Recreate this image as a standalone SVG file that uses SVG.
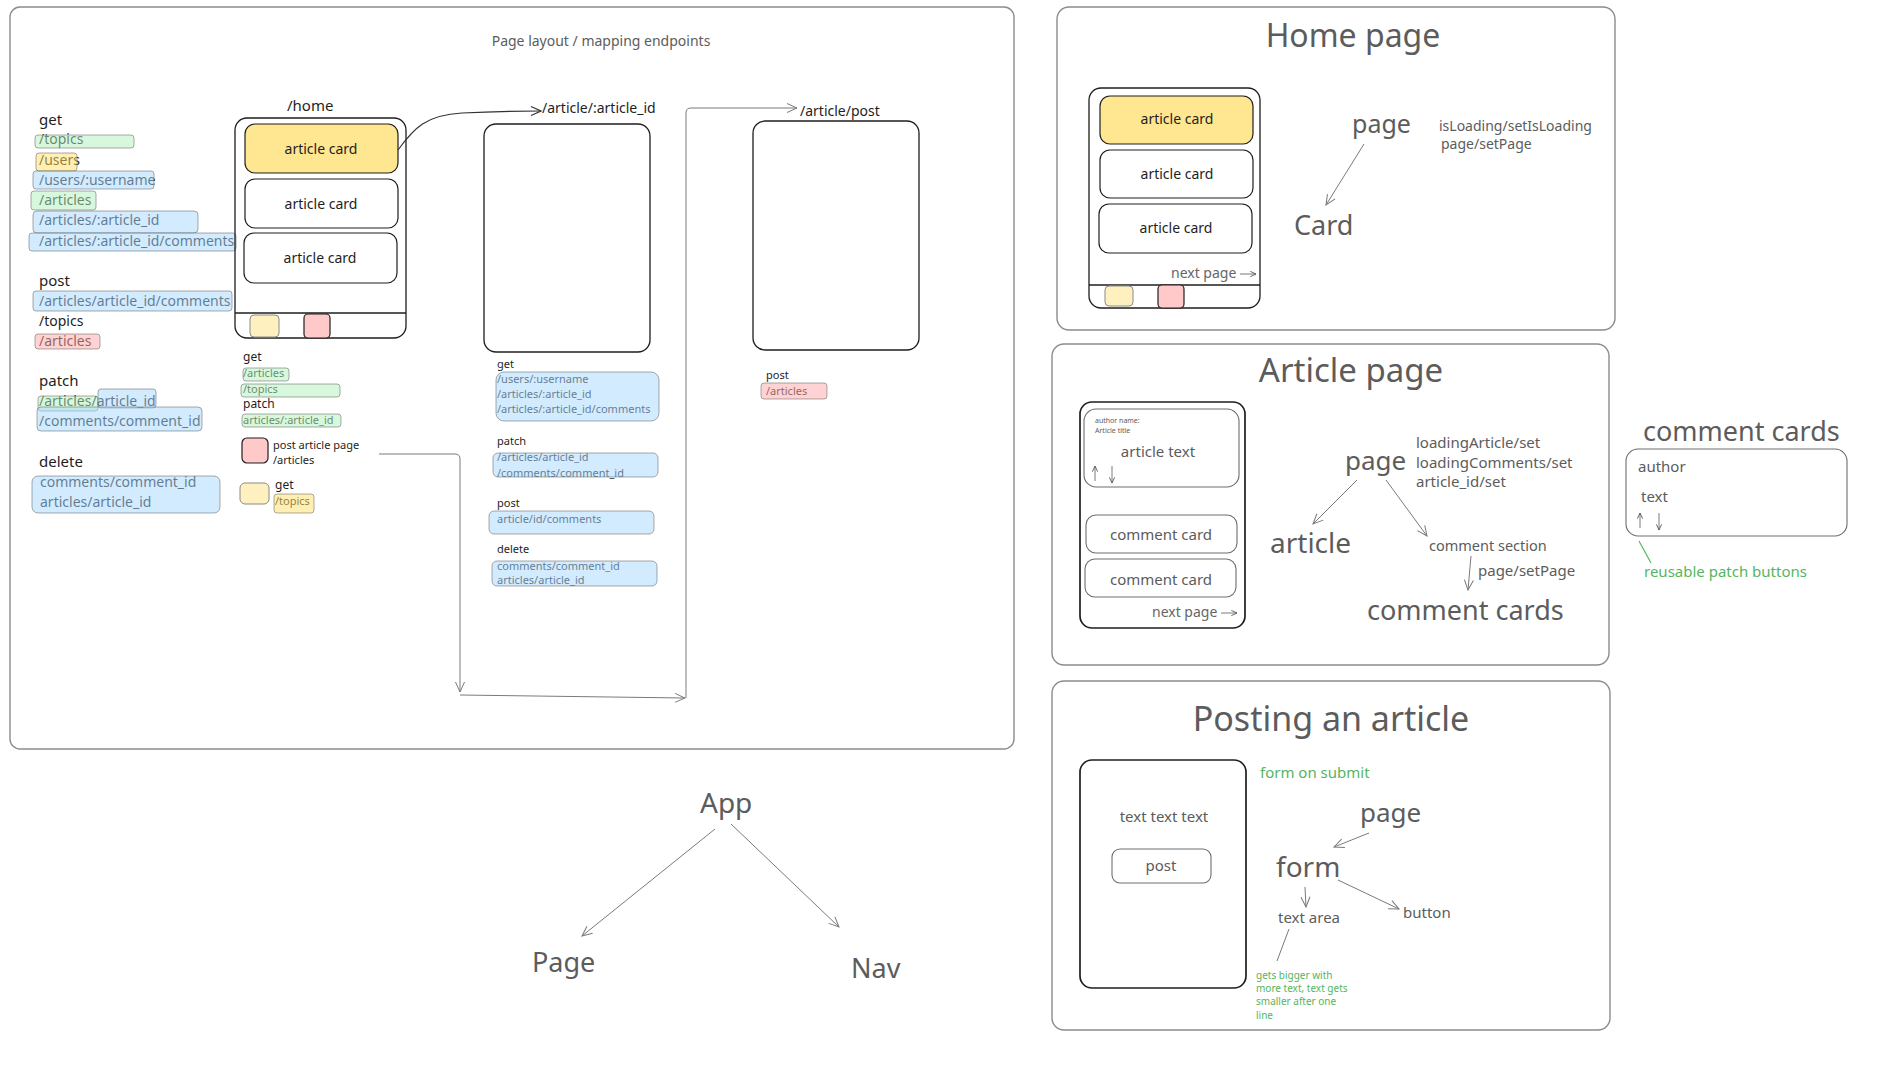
<svg xmlns="http://www.w3.org/2000/svg" width="1904" height="1090" viewBox="0 0 1904 1090">
  <style>
    text { font-family: "Noto Sans", "Liberation Sans", sans-serif; }
    .frame { fill: #fff; stroke: #8c8c8c; stroke-width: 1.4; }
    .phone { fill: none; stroke: #1e1e1e; stroke-width: 1.3; }
    .phone2 { fill: none; stroke: #1e1e1e; stroke-width: 1.7; }
    .card { fill: #fff; stroke: #1e1e1e; stroke-width: 1.2; }
    .card-soft { fill: #fff; stroke: #6e6e6e; stroke-width: 1.1; }
    .card-y { fill: #ffe690; stroke: #1e1e1e; stroke-width: 1.2; }
    .sq-y { fill: #fff1bf; stroke: #8a8a8a; stroke-width: 1; }
    .sq-p { fill: #ffc9c9; stroke: #1e1e1e; stroke-width: 1.2; }
    .hl { stroke: #5a5a5a; stroke-opacity: 0.5; stroke-width: 1; fill-opacity: 0.5; }
    .g { fill: #b2f2bb; }
    .b { fill: #a5d8ff; }
    .y { fill: #ffe066; }
    .p { fill: #ffa8a8; }
    .k { fill: #1e1e1e; }
    .s14 { font-size: 14px; }
    .s11 { font-size: 11px; }
    .s12 { font-size: 12px; }
    .gray { fill: #5c5c5c; }
    .mid { text-anchor: middle; }
    .note { fill: #55b560; }
    .conn { fill: none; stroke: #7a7a7a; stroke-width: 1; }
    .conn-d { fill: none; stroke: #333; stroke-width: 1.2; }
  </style>
  <defs>
    <marker id="ah" viewBox="0 0 12 12" refX="11" refY="6" markerWidth="12" markerHeight="12" markerUnits="userSpaceOnUse" orient="auto">
      <path d="M1,1.5 L11,6 L1,10.5" fill="none" stroke="#7a7a7a" stroke-width="1"/>
    </marker>
    <marker id="ah-d" viewBox="0 0 12 12" refX="11" refY="6" markerWidth="12" markerHeight="12" markerUnits="userSpaceOnUse" orient="auto">
      <path d="M1,1.5 L11,6 L1,10.5" fill="none" stroke="#333" stroke-width="1.2"/>
    </marker>
    <marker id="ah-s" viewBox="0 0 8 8" refX="7.5" refY="4" markerWidth="7" markerHeight="7" markerUnits="userSpaceOnUse" orient="auto">
      <path d="M1,1 L7.5,4 L1,7" fill="none" stroke="#555" stroke-width="1"/>
    </marker>
  </defs>

  <!-- ===== Page layout / mapping endpoints ===== -->
  <g id="layout-frame">
    <rect class="frame" x="10" y="7" width="1004" height="742" rx="10"/>
    <text class="s14 gray mid" x="601" y="46">Page layout / mapping endpoints</text>
  </g>

  <!-- endpoint list -->
  <g id="endpoint-list">
    <text class="k" style="font-size:15px" x="39" y="125">get</text>
    <text class="k s14" x="39" y="144">/topics</text>
    <text class="k s14" x="39" y="165">/users</text>
    <text class="k s14" x="39" y="185">/users/:username</text>
    <text class="k s14" x="39" y="205">/articles</text>
    <text class="k s14" x="39" y="225">/articles/:article_id</text>
    <text class="k s14" x="39" y="246">/articles/:article_id/comments</text>
    <rect class="hl g" x="35" y="135" width="99" height="13" rx="3"/>
    <rect class="hl y" x="36" y="153" width="41" height="18" rx="3"/>
    <rect class="hl b" x="33" y="171" width="121" height="18" rx="3"/>
    <rect class="hl g" x="31" y="191" width="65" height="19" rx="3"/>
    <rect class="hl b" x="33" y="211" width="165" height="22" rx="4"/>
    <rect class="hl b" x="29" y="233" width="207" height="18" rx="3"/>

    <text class="k" style="font-size:15px" x="39" y="286">post</text>
    <text class="k s14" x="39" y="306">/articles/article_id/comments</text>
    <rect class="hl b" x="33" y="291" width="199" height="20" rx="3"/>
    <text class="k s14" x="39" y="326">/topics</text>
    <text class="k s14" x="39" y="346">/articles</text>
    <rect class="hl p" x="35" y="334" width="65" height="15" rx="3"/>

    <text class="k" style="font-size:15px" x="39" y="386">patch</text>
    <text class="k s14" x="39" y="406">/articles/article_id</text>
    <rect class="hl g" x="38" y="396" width="60" height="15" rx="3"/>
    <rect class="hl b" x="98" y="389" width="58" height="19" rx="3"/>
    <text class="k s14" x="39" y="426">/comments/comment_id</text>
    <rect class="hl b" x="37" y="407" width="165" height="24" rx="4"/>

    <text class="k" style="font-size:15px" x="39" y="467">delete</text>
    <text class="k s14" x="40" y="487">comments/comment_id</text>
    <text class="k s14" x="40" y="507">articles/article_id</text>
    <rect class="hl b" x="32" y="476" width="188" height="37" rx="6"/>
  </g>

  <!-- /home wireframe -->
  <g id="home-wireframe">
    <text class="k" style="font-size:15px" x="287" y="111">/home</text>
    <rect class="phone" x="235" y="118" width="171" height="220" rx="12"/>
    <line class="phone" x1="235" y1="313" x2="406" y2="313"/>
    <rect class="card-y" x="245" y="124" width="153" height="49" rx="10"/>
    <rect class="card" x="245" y="179" width="153" height="49" rx="10"/>
    <rect class="card" x="244" y="233" width="153" height="50" rx="10"/>
    <text class="k s14 mid" x="321" y="154">article card</text>
    <text class="k s14 mid" x="321" y="209">article card</text>
    <text class="k s14 mid" x="320" y="263">article card</text>
    <rect class="sq-y" x="250" y="315" width="29" height="22" rx="4"/>
    <rect class="sq-p" x="304" y="314" width="26" height="24" rx="4"/>
  </g>

  <g id="home-endpoints">
    <text class="k s12" x="243" y="361">get</text>
    <text class="k s11" x="243" y="377">/articles</text>
    <rect class="hl g" x="243" y="368" width="46" height="13" rx="3"/>
    <text class="k s11" x="243" y="393">/topics</text>
    <rect class="hl g" x="241" y="384" width="99" height="13" rx="3"/>
    <text class="k s12" x="243" y="408">patch</text>
    <text class="k s11" x="243" y="424">articles/:article_id</text>
    <rect class="hl g" x="242" y="414" width="99" height="13" rx="3"/>
    <rect class="sq-p" x="242" y="438" width="26" height="25" rx="5"/>
    <text class="k s11" x="273" y="449">post article page</text>
    <text class="k s11" x="273" y="464">/articles</text>
    <rect class="sq-y" x="240" y="483" width="29" height="21" rx="5"/>
    <text class="k s12" x="275" y="489">get</text>
    <text class="k s11" x="275" y="505">/topics</text>
    <rect class="hl y" x="274" y="494" width="40" height="19" rx="3"/>
  </g>

  <!-- /article/:article_id wireframe -->
  <g id="article-wireframe">
    <text class="k s14" x="542" y="113">/article/:article_id</text>
    <rect class="phone" x="484" y="124" width="166" height="228" rx="12"/>
    <text class="k s11" x="497" y="368">get</text>
    <text class="k s11" x="497" y="383">/users/:username</text>
    <text class="k s11" x="497" y="398">/articles/:article_id</text>
    <text class="k s11" x="497" y="413">/articles/:article_id/comments</text>
    <rect class="hl b" x="496" y="372" width="163" height="49" rx="8"/>
    <text class="k s11" x="497" y="445">patch</text>
    <text class="k s11" x="497" y="461">/articles/article_id</text>
    <text class="k s11" x="497" y="477">/comments/comment_id</text>
    <rect class="hl b" x="493" y="453" width="165" height="24" rx="5"/>
    <text class="k s11" x="497" y="507">post</text>
    <text class="k s11" x="497" y="523">article/id/comments</text>
    <rect class="hl b" x="489" y="511" width="165" height="23" rx="5"/>
    <text class="k s11" x="497" y="553">delete</text>
    <text class="k s11" x="497" y="570">comments/comment_id</text>
    <text class="k s11" x="497" y="584">articles/article_id</text>
    <rect class="hl b" x="492" y="561" width="165" height="25" rx="5"/>
  </g>

  <!-- /article/post wireframe -->
  <g id="post-wireframe">
    <text class="k s14" x="800" y="116">/article/post</text>
    <rect class="phone" x="753" y="121" width="166" height="229" rx="12"/>
    <text class="k s11" x="766" y="379">post</text>
    <text class="k s11" x="766" y="395">/articles</text>
    <rect class="hl p" x="761" y="383" width="66" height="16" rx="3"/>
  </g>

  <!-- ===== Home page ===== -->
  <g id="home-page">
    <rect class="frame" x="1057" y="7" width="558" height="323" rx="12"/>
    <text class="gray mid" style="font-size:32px" x="1353" y="47">Home page</text>
    <rect class="phone" x="1089" y="88" width="171" height="220" rx="12"/>
    <line class="phone" x1="1089" y1="285" x2="1260" y2="285"/>
    <rect class="card-y" x="1100" y="96" width="153" height="48" rx="10"/>
    <rect class="card" x="1100" y="150" width="153" height="48" rx="10"/>
    <rect class="card" x="1099" y="204" width="153" height="49" rx="10"/>
    <text class="k s14 mid" x="1177" y="124">article card</text>
    <text class="k s14 mid" x="1177" y="179">article card</text>
    <text class="k s14 mid" x="1176" y="233">article card</text>
    <text class="s14" style="fill:#666" x="1171" y="278">next page</text>
    <line class="conn" x1="1240" y1="274" x2="1256" y2="274" marker-end="url(#ah-s)"/>
    <rect class="sq-y" x="1105" y="286" width="28" height="20" rx="4"/>
    <rect class="sq-p" x="1158" y="285" width="26" height="23" rx="4"/>
    <text class="gray" style="font-size:25px" x="1352" y="133">page</text>
    <text class="gray" style="font-size:14px" x="1439" y="131">isLoading/setIsLoading</text>
    <text class="gray" style="font-size:14px" x="1441" y="149">page/setPage</text>
    <line class="conn" x1="1364" y1="144" x2="1326" y2="205" marker-end="url(#ah)"/>
    <text class="gray" style="font-size:27px" x="1294" y="235">Card</text>
  </g>

  <!-- ===== Article page ===== -->
  <g id="article-page">
    <rect class="frame" x="1052" y="344" width="557" height="321" rx="12"/>
    <text class="gray mid" style="font-size:33px" x="1351" y="382">Article page</text>
    <rect class="phone2" x="1080" y="402" width="165" height="226" rx="12"/>
    <rect class="card-soft" x="1084" y="409" width="155" height="78" rx="12"/>
    <text class="gray" style="font-size:7px" x="1095" y="423">author name:</text>
    <text class="gray" style="font-size:7px" x="1095" y="433">Article title</text>
    <text class="gray mid" style="font-size:15px" x="1158" y="457">article text</text>
    <line class="conn" x1="1095" y1="481" x2="1095" y2="466" marker-end="url(#ah-s)"/>
    <line class="conn" x1="1112" y1="466" x2="1112" y2="483" marker-end="url(#ah-s)"/>
    <rect class="card-soft" x="1086" y="515" width="151" height="38" rx="10"/>
    <text class="gray mid" style="font-size:15px" x="1161" y="540">comment card</text>
    <rect class="card-soft" x="1085" y="559" width="151" height="38" rx="10"/>
    <text class="gray mid" style="font-size:15px" x="1161" y="585">comment card</text>
    <text class="s14" style="fill:#666" x="1152" y="617">next page</text>
    <line class="conn" x1="1221" y1="613" x2="1237" y2="613" marker-end="url(#ah-s)"/>
    <text class="gray" style="font-size:26px" x="1345" y="470">page</text>
    <text class="gray" style="font-size:15px" x="1416" y="448">loadingArticle/set</text>
    <text class="gray" style="font-size:15px" x="1416" y="468">loadingComments/set</text>
    <text class="gray" style="font-size:15px" x="1416" y="487">article_id/set</text>
    <line class="conn" x1="1357" y1="480" x2="1313" y2="524" marker-end="url(#ah)"/>
    <line class="conn" x1="1386" y1="480" x2="1427" y2="536" marker-end="url(#ah)"/>
    <text class="gray" style="font-size:28px" x="1270" y="553">article</text>
    <text class="gray" style="font-size:14.5px" x="1429" y="551">comment section</text>
    <line class="conn" x1="1471" y1="556" x2="1468" y2="590" marker-end="url(#ah)"/>
    <text class="gray" style="font-size:15px" x="1478" y="576">page/setPage</text>
    <text class="gray" style="font-size:27px" x="1367" y="620">comment cards</text>
  </g>

  <!-- ===== comment cards ===== -->
  <g id="comment-cards">
    <text class="gray" style="font-size:27px" x="1643" y="441">comment cards</text>
    <rect class="card-soft" x="1626" y="449" width="221" height="87" rx="12"/>
    <text class="gray" style="font-size:15px" x="1638" y="472">author</text>
    <text class="gray" style="font-size:15px" x="1641" y="502">text</text>
    <line class="conn" x1="1640" y1="528" x2="1640" y2="513" marker-end="url(#ah-s)"/>
    <line class="conn" x1="1659" y1="513" x2="1659" y2="530" marker-end="url(#ah-s)"/>
    <line x1="1639" y1="541" x2="1651" y2="563" stroke="#55b560" stroke-width="1.2"/>
    <text class="note" style="font-size:15px" x="1644" y="577">reusable patch buttons</text>
  </g>

  <!-- ===== Posting an article ===== -->
  <g id="posting-article">
    <rect class="frame" x="1052" y="681" width="558" height="349" rx="12"/>
    <text class="gray mid" style="font-size:34px" x="1331" y="731">Posting an article</text>
    <rect class="phone2" x="1080" y="760" width="166" height="228" rx="12"/>
    <text class="gray mid" style="font-size:15px" x="1164" y="822">text text text</text>
    <rect class="card-soft" x="1112" y="849" width="99" height="34" rx="8"/>
    <text class="gray mid" style="font-size:15px" x="1161" y="871">post</text>
    <text class="note" style="font-size:15px" x="1260" y="778">form on submit</text>
    <text class="gray" style="font-size:26px" x="1360" y="822">page</text>
    <line class="conn" x1="1369" y1="833" x2="1334" y2="847" marker-end="url(#ah)"/>
    <text class="gray" style="font-size:28px" x="1276" y="877">form</text>
    <line class="conn" x1="1305" y1="887" x2="1306" y2="907" marker-end="url(#ah)"/>
    <line class="conn" x1="1338" y1="880" x2="1399" y2="909" marker-end="url(#ah)"/>
    <text class="gray" style="font-size:15px" x="1278" y="923">text area</text>
    <text class="gray" style="font-size:15px" x="1403" y="918">button</text>
    <line class="conn" x1="1289" y1="929" x2="1277" y2="961"/>
    <text class="note" style="font-size:10px" x="1256" y="979">gets bigger with</text>
    <text class="note" style="font-size:10px" x="1256" y="992">more text, text gets</text>
    <text class="note" style="font-size:10px" x="1256" y="1005">smaller after one</text>
    <text class="note" style="font-size:10px" x="1256" y="1019">line</text>
  </g>

  <!-- ===== component tree ===== -->
  <g id="app-node"><text class="gray" style="font-size:28px" x="700" y="813">App</text></g>
  <g id="page-node"><text class="gray" style="font-size:27px" x="532" y="972">Page</text></g>
  <g id="nav-node"><text class="gray" style="font-size:27px" x="851" y="978">Nav</text></g>

  <!-- connectors -->
  <g id="connectors">
    <path class="conn-d" d="M398,150 C414,128 426,115 462,113 S520,111 541,111" marker-end="url(#ah-d)"/>
    <path class="conn" d="M379,454 L455,454 Q460,454 460,459 L460,692" marker-end="url(#ah)"/>
    <path class="conn" d="M460,695 L685,698" marker-end="url(#ah)"/>
    <path class="conn" d="M686,698 L686,113 Q686,108 691,108 L797,108" marker-end="url(#ah)"/>
    <line class="conn" x1="715" y1="829" x2="582" y2="936" marker-end="url(#ah)"/>
    <line class="conn" x1="731" y1="824" x2="839" y2="927" marker-end="url(#ah)"/>
  </g>
</svg>
